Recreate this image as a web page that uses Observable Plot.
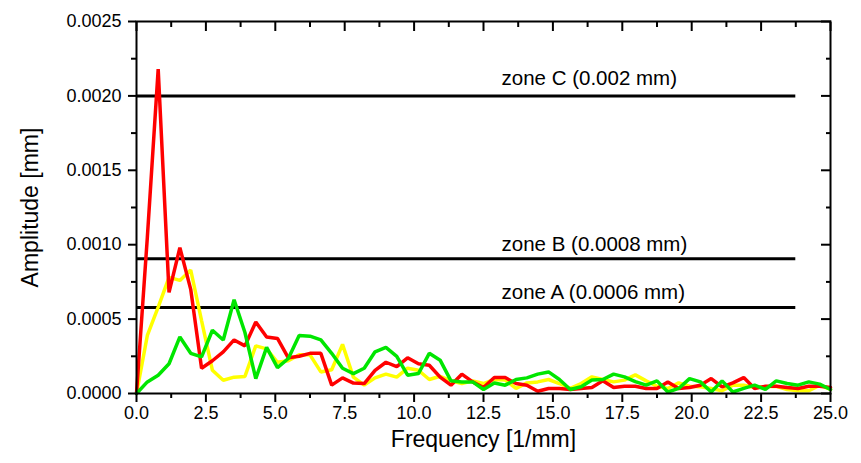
<!DOCTYPE html>
<html>
<head>
<meta charset="utf-8">
<script src="https://cdn.jsdelivr.net/npm/d3@7"></script>
<script src="https://cdn.jsdelivr.net/npm/@observablehq/plot@0.6"></script>
<style>
  html, body { margin: 0; padding: 0; background: #fff; }
  svg { display: block; }
</style>
</head>
<body>
<div id="chart"></div>
<script>
// ---- data ----
const freqStep = 25 / 64; // 1/mm, FFT bin spacing
const redAmp = [0, 0.00105, 0.00218, 0.00068, 0.00098, 0.0007, 0.00017, 0.00022, 0.00028, 0.00036, 0.00032,
  0.00048, 0.00038, 0.00037, 0.00024, 0.00025, 0.00027, 0.00027, 0.000056, 0.000105, 0.00007, 0.000067, 0.000156, 0.00021, 0.00018, 0.00024, 0.0002, 0.00019, 0.00011, 0.000056,
  0.00013, 0.000078, 0.00004, 0.000107, 0.000107, 0.000067, 0.000056, 0.000015, 0.000034, 0.000034, 0.000027, 0.000034, 0.00004, 0.000085, 0.00004, 0.000049, 0.000049,
  0.000034, 0.000034, 0.000078, 0.000034, 0.00004, 0.000056, 0.0001, 0.000045, 0.000071, 0.000107, 0.000034, 0.000049, 0.000049, 0.00004, 0.000034, 0.000049, 0.000049, 0.00004];
const yellowAmp = [0, 0.00039, 0.00058, 0.00078, 0.00076, 0.00083, 0.00049, 0.000156, 0.000089, 0.00011, 0.000115,
  0.00032, 0.0003, 0.00021, 0.00022, 0.00026, 0.00026, 0.000145, 0.00016, 0.00033, 0.00011, 0.000056, 0.000105, 0.00013, 0.00011, 0.00017, 0.000156, 0.000094, 0.000116, 0.000085,
  0.000067, 0.000085, 0.000067, 0.000094, 0.00009, 0.000034, 0.000071, 0.000078, 0.000094, 0.000067, 0.000034, 0.000067, 0.000112, 0.000094, 0.000078, 0.00009, 0.000125,
  0.000085, 0.000049, 0.000034, 0.000071, 0.000049, 0.000045, 0.000034, 0.000018, 0.000056, 0.000056, 0.00004, 0.000045, 0.000049, 0.000027, 0.000018, 0.000018, 0.000056, 0.000027];
const greenAmp = [0, 0.000078, 0.000123, 0.0002, 0.00038, 0.00027, 0.000246, 0.000425, 0.00036, 0.00063, 0.00041,
  0.0001, 0.00031, 0.000174, 0.000235, 0.00039, 0.000385, 0.00036, 0.00027, 0.00017, 0.000134, 0.00017, 0.00028, 0.00031, 0.00025, 0.000123, 0.000134, 0.00027, 0.000224, 0.000085,
  0.000078, 0.000078, 0.000027, 0.000071, 0.000056, 0.000094, 0.000105, 0.00013, 0.000145, 0.000094, 0.000027, 0.000045, 0.00009, 0.000094, 0.00013, 0.000112, 0.00008,
  0.000056, 0.000085, 0.00001, 0.000034, 0.0001, 0.000078, 0.00001, 0.000085, 0.00001, 0.000034, 0.000056, 0.000027, 0.000085, 0.000067, 0.000056, 0.000078, 0.000063, 0.000027];

const zoneLevels = [0.002, 0.000905, 0.000578];
const zoneLabels = ["zone C (0.002 mm)", "zone B (0.0008 mm)", "zone A (0.0006 mm)"];
const zoneLabelY = [0.00207, 0.00096, 0.000633];
const zoneLabelX = 13.15;
const zoneLineEnd = 23.75;

const xMajorTicks = [0, 2.5, 5, 7.5, 10, 12.5, 15, 17.5, 20, 22.5, 25];
const xMinorTicks = [1.25, 3.75, 6.25, 8.75, 11.25, 13.75, 16.25, 18.75, 21.25, 23.75];
const yMajorTicks = [0, 0.0005, 0.001, 0.0015, 0.002, 0.0025];
const yMinorTicks = [0.00025, 0.00075, 0.00125, 0.00175, 0.00225];

const xTitle = "Frequency [1/mm]";
const yTitle = "Amplitude [mm]";

// ---- build tables ----
const toRows = (arr) => arr.map((v, i) => ({f: i * freqStep, a: v}));
const series = [
  {rows: toRows(yellowAmp), color: "#ffff00"},
  {rows: toRows(redAmp), color: "#ff0000"},
  {rows: toRows(greenAmp), color: "#00e600"}
];
const zones = zoneLevels.map((v, i) => ({v, label: zoneLabels[i], ly: zoneLabelY[i]}));
const blank = () => "";

const chart = Plot.plot({
  width: 861,
  height: 463,
  marginLeft: 136,
  marginRight: 31,
  marginTop: 21,
  marginBottom: 70,
  x: {domain: [0, 25]},
  y: {domain: [0, 0.0025]},
  style: {fontFamily: "'Liberation Sans', Arial, sans-serif", fontSize: "18px", color: "#000", background: "#fff"},
  marks: [
    Plot.ruleY(zones, {y: "v", x1: 0, x2: zoneLineEnd, stroke: "#000", strokeWidth: 3}),
    Plot.text(zones, {x: zoneLabelX, y: "ly", text: "label", textAnchor: "start", lineAnchor: "bottom", fontSize: 20.5, fill: "#000"}),
    ...series.map(s => Plot.line(s.rows, {x: "f", y: "a", stroke: s.color, strokeWidth: 3.5, strokeLinejoin: "miter"})),
    Plot.frame({stroke: "#000", strokeWidth: 2}),
    Plot.axisX({ticks: xMajorTicks, tickSize: 9, tickPadding: 4, tickFormat: d3.format(".1f"), label: null, strokeWidth: 2, fontSize: 18}),
    Plot.axisX({ticks: xMinorTicks, tickSize: 5, tickFormat: blank, label: null, strokeWidth: 2}),
    Plot.axisX({anchor: "top", ticks: xMajorTicks, tickSize: -9, tickFormat: blank, label: null, strokeWidth: 2}),
    Plot.axisX({anchor: "top", ticks: xMinorTicks, tickSize: -5, tickFormat: blank, label: null, strokeWidth: 2}),
    Plot.axisY({ticks: yMajorTicks, tickSize: 8, tickPadding: 7, tickFormat: d3.format(".4f"), label: null, strokeWidth: 2, fontSize: 18}),
    Plot.axisY({ticks: yMinorTicks, tickSize: 5, tickFormat: blank, label: null, strokeWidth: 2}),
    Plot.axisY({anchor: "right", ticks: yMajorTicks, tickSize: -10, tickFormat: blank, label: null, strokeWidth: 2}),
    Plot.axisY({anchor: "right", ticks: yMinorTicks, tickSize: -5, tickFormat: blank, label: null, strokeWidth: 2}),
    Plot.text([xTitle], {text: d => d, frameAnchor: "bottom", lineAnchor: "middle", textAnchor: "middle", dy: 46, fontSize: 23, fill: "#000"}),
    Plot.text([yTitle], {text: d => d, frameAnchor: "left", textAnchor: "middle", lineAnchor: "middle", rotate: -90, dx: -106, fontSize: 23, fill: "#000"})
  ]
});
document.getElementById("chart").appendChild(chart);
</script>
</body>
</html>
